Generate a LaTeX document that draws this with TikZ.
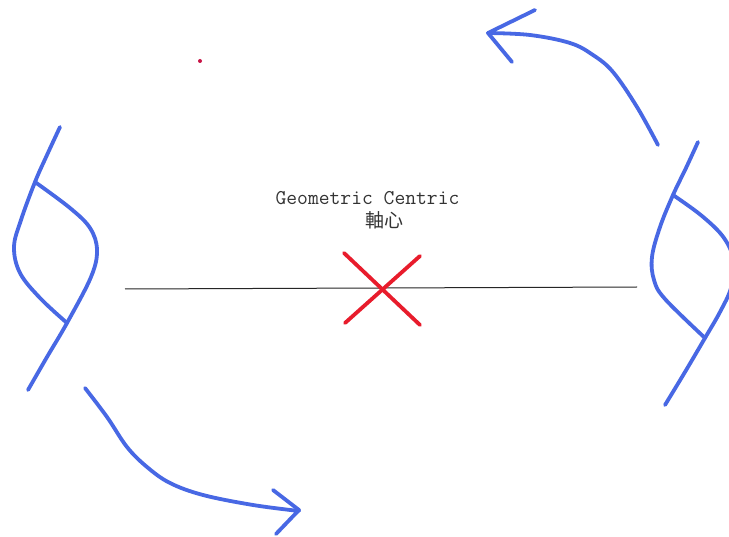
\documentclass[tikz,border=0pt]{standalone}
\usepackage{fontspec}
\newfontfamily\cjkfnt{Noto Sans CJK TC}
\definecolor{penblue}{RGB}{72,104,228}
\definecolor{penred}{RGB}{232,28,44}
\definecolor{dotred}{RGB}{200,20,70}
\tikzset{
  pen/.style={draw=penblue, line width=3.8pt, line cap=round, line join=round},
  redpen/.style={draw=penred, line width=3.8pt, line cap=round},
  axisline/.style={draw=black!85, line width=1pt},
  lbl/.style={inner sep=0pt, text=black!80}
}
\begin{document}
\begin{tikzpicture}[x=1pt,y=-1pt]
\useasboundingbox[fill=white] (0,0) rectangle (729,537);
% axis line
\coordinate (axL) at (125,289);
\coordinate (axR) at (637,287);
\draw[axisline] (axL) -- (axR);
% red cross
\coordinate (xa) at (344,253);
\coordinate (xb) at (420,325);
\coordinate (xc) at (420,256);
\coordinate (xd) at (345,323);
\draw[redpen] (xa) -- (xb);
\draw[redpen] (xc) -- (xd);
% labels
\node[lbl, font=\ttfamily\fontsize{21}{23}\selectfont] (t1) at (367.5,198) {Geometric Centric};
\node[lbl, font=\cjkfnt\fontsize{19}{21}\selectfont] (t2) at (384,220) {軸心};
% red dot
\fill[dotred] (200,61) circle (2);
% left shape
\draw[pen] plot[smooth, tension=0.6] coordinates {(60,127) (47,155) (35,182) (21,220) (14,247) (20,273) (40,298) (67,323)};
\draw[pen] plot[smooth, tension=0.6] coordinates {(35,182) (70,208) (90,228) (97,250) (91,277) (67,323) (47,357) (28,390)};
% right shape
\draw[pen] plot[smooth, tension=0.6] coordinates {(698,142) (686,168) (673,195) (660,227) (652,257) (654,280) (665,299) (705,338)};
\draw[pen] plot[smooth, tension=0.6] coordinates {(673,195) (702,216) (724,238) (734,262) (731,288) (720,312) (705,338) (685,372) (665,405)};
% top arrow
\draw[pen] plot[smooth, tension=0.6] coordinates {(658,145) (637,107) (613,72) (593,55) (570,43) (530,35) (488,33)};
\coordinate (ta) at (488,33);
\coordinate (ta1) at (535,10);
\coordinate (ta2) at (512,62);
\draw[pen] (ta1) -- (ta) -- (ta2);
% bottom arrow
\draw[pen] plot[smooth, tension=0.6] coordinates {(85,388) (107,417) (127,447) (147,467) (170,483) (203,495) (253,505) (299,511)};
\coordinate (ba) at (299,510);
\coordinate (ba1) at (273,490);
\coordinate (ba2) at (276,534);
\draw[pen] (ba1) -- (ba) -- (ba2);
\end{tikzpicture}
\end{document}
